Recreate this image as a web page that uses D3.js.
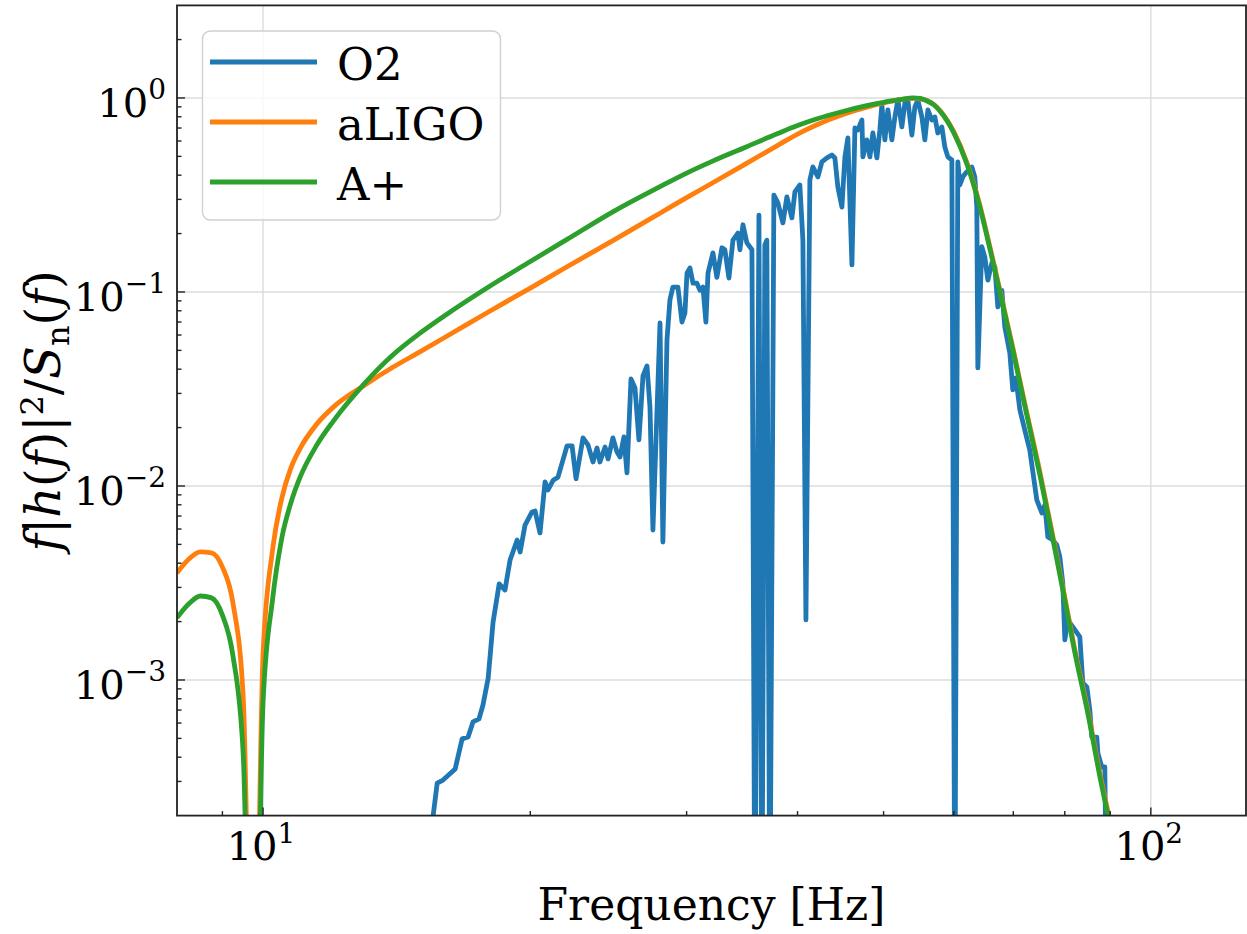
<!DOCTYPE html>
<html>
<head>
<meta charset="utf-8">
<script src="https://cdn.jsdelivr.net/npm/d3@7"></script>
<style>
  body { margin: 0; background: #fff; }
  svg { display: block; }
</style>
</head>
<body>
<script>
// smooth detector curves share one frequency grid (Hz)
const smoothFreq = [8, 8.25, 8.5, 8.75, 9, 9.25, 9.5, 9.75, 10, 10.25, 10.5, 10.75, 11, 11.5, 12, 13, 14, 15, 16, 18, 20, 22, 25, 28, 30, 32, 35, 38, 40, 42, 45, 48, 50, 52, 54, 55, 56, 57, 58, 60, 62, 64, 66, 68, 70, 72, 75, 78, 80, 82, 85, 88, 90]
const aligoValue = [3.56e-3, 4.2e-3, 4.57e-3, 4.52e-3, 3.82e-3, 2.49e-3, 8.07e-4, 7e-6, 1.35e-3, 4.68e-3, 8.67e-3, 0.0124, 0.0155, 0.0209, 0.0255, 0.033, 0.0409, 0.049, 0.0581, 0.0796, 0.1047, 0.1349, 0.1884, 0.2547, 0.3063, 0.3622, 0.4585, 0.57, 0.652, 0.726, 0.822, 0.899, 0.942, 0.977, 0.994, 0.988, 0.968, 0.925, 0.852, 0.668, 0.47, 0.294, 0.165, 0.091, 0.0503, 0.0275, 0.0118, 4.85e-3, 2.67e-3, 1.48e-3, 6.85e-4, 3.0e-4, 1.86e-4]
const aplusValue = [2.09e-3, 2.47e-3, 2.71e-3, 2.65e-3, 2.16e-3, 1.33e-3, 4.1e-4, 4e-6, 7.6e-4, 2.6e-3, 5.4e-3, 8.2e-3, 0.011, 0.0163, 0.0216, 0.0336, 0.0473, 0.061, 0.0752, 0.107, 0.1435, 0.1867, 0.265, 0.349, 0.41, 0.47, 0.559, 0.656, 0.721, 0.779, 0.852, 0.915, 0.95, 0.977, 1.0, 0.994, 0.965, 0.92, 0.847, 0.66, 0.462, 0.288, 0.161, 0.0888, 0.0491, 0.0268, 0.0114, 4.68e-3, 2.58e-3, 1.43e-3, 6.6e-4, 2.88e-4, 1.79e-4]

// O2 curve, vertices
const o2Freq = [15.46, 15.54, 15.71, 15.95, 16.46, 16.76, 17.02, 17.24, 17.51, 17.69,
  17.93, 18.16, 18.45, 18.73, 18.98, 19.33, 19.48, 19.73, 20.09, 20.25,
  20.51, 20.78, 20.94, 21.22, 21.49, 22.00, 22.29, 22.52, 22.93, 23.23,
  23.53, 23.78, 23.96, 24.28, 24.47, 24.78, 25.04, 25.24, 25.50, 25.70,
  25.97, 26.24, 26.51, 26.79, 27.07, 27.28, 27.49, 28.00, 28.21, 28.51,
  28.73, 28.95, 29.33, 29.64, 29.87, 30.03, 30.26, 30.50, 30.81, 31.06,
  31.30, 31.54, 31.71, 32.12, 32.45, 32.88, 33.13, 33.48, 33.83, 34.27,
  34.45, 34.72, 35.08, 35.54, 35.81, 36.19, 36.47, 36.75, 36.94, 37.23,
  37.62, 38.01, 38.51, 38.91, 39.42, 39.73, 40.24, 40.56, 40.88, 41.30,
  41.62, 42.17, 42.61, 43.17, 43.73, 44.07, 44.41, 44.88, 45.23, 45.58,
  46.06, 46.42, 46.78, 47.27, 47.39, 47.88, 48.26, 48.63, 49.14, 49.52,
  49.78, 50.17, 50.56, 51.09, 51.49, 51.89, 52.43, 52.84, 53.25, 53.81,
  54.23, 54.65, 55.22, 55.65, 56.09, 56.67, 57.11, 57.56, 58.16, 58.61,
  59.07, 59.69, 60.15, 60.62, 60.94, 61.41, 62.05, 62.86, 63.35, 63.68,
  63.85, 64.51, 65.02, 65.53, 66.21, 66.73, 67.25, 67.95, 68.48, 69.37,
  69.91, 70.46, 71.20, 72.12, 73.06, 74.40, 75.38, 75.96, 76.56, 77.56,
  78.36, 78.98, 79.59, 80.01, 80.63, 81.68, 83.18, 83.83, 84.71, 85.37,
  85.81, 86.93, 87.16, 88.07, 88.75, 88.98]
const o2Value = [7e-5, 1.97e-4, 2.94e-4, 3.05e-4, 3.48e-4, 4.97e-4, 5.08e-4, 6.08e-4, 6.3e-4, 7.43e-4,
  1.02e-3, 1.99e-3, 3.13e-3, 2.91e-3, 4.16e-3, 5.27e-3, 4.57e-3, 6.29e-3, 7.35e-3, 7.43e-3,
  5.73e-3, 1.05e-2, 9.54e-3, 1.07e-2, 1.11e-2, 1.61e-2, 1.61e-2, 1.09e-2, 1.77e-2, 1.63e-2,
  1.33e-2, 1.57e-2, 1.33e-2, 1.59e-2, 1.38e-2, 1.77e-2, 1.5e-2, 1.41e-2, 1.79e-2, 1.17e-2,
  3.56e-2, 3.2e-2, 1.73e-2, 3.69e-2, 4.16e-2, 2.55e-2, 5.93e-3, 6.92e-2, 5.14e-3, 5.66e-2,
  9.09e-2, 0.106, 0.106, 0.07, 0.078, 0.125, 0.133, 0.111, 0.111, 0.102,
  0.106, 0.07, 0.125, 0.159, 0.119, 0.169, 0.165, 0.118, 0.185, 0.201,
  0.165, 0.222, 0.179, 0.165, 4e-5, 0.249, 4e-5, 0.175, 0.185, 4e-5,
  0.316, 0.288, 0.227, 0.309, 0.241, 0.328, 0.356, 0.185, 2.04e-3, 0.378,
  0.441, 0.392, 0.468, 0.491, 0.508, 0.491, 0.348, 0.274, 0.497, 0.622,
  0.138, 0.70, 0.684, 0.77, 0.497, 0.608, 0.497, 0.66, 0.491, 0.684,
  0.92, 0.608, 0.868, 0.608, 0.798, 0.977, 0.709, 0.942, 0.977, 0.644,
  0.899, 0.977, 0.798, 0.608, 0.868, 0.77, 0.798, 0.66, 0.709, 0.559,
  0.497, 0.479, 4e-5, 0.468, 0.356, 0.392, 0.416, 0.441, 0.392, 0.274,
  0.0406, 0.171, 0.151, 0.115, 0.141, 0.135, 0.0837, 0.102, 0.066, 0.0485,
  0.0313, 0.036, 0.0247, 0.0194, 0.0153, 8.47e-3, 7.26e-3, 7.98e-3, 5.46e-3, 5.27e-3,
  4.96e-3, 4.31e-3, 3.16e-3, 1.61e-3, 2.04e-3, 1.88e-3, 1.67e-3, 9.66e-4, 9.21e-4, 7.0e-4,
  5.08e-4, 5.08e-4, 4.2e-4, 3.56e-4, 3.56e-4, 1.33e-4]

const seriesNames = ['O2', 'aLIGO', 'A+']
const seriesColors = ['#1f77b4', '#ff7f0e', '#2ca02c']
const xMajor = [10, 100]
const xMinor = [9, 20, 30, 40, 50, 60, 70, 80, 90]
const yMajor = [1e-3, 1e-2, 1e-1, 1]
const yExp = ['\u22123', '\u22122', '\u22121', '0']

const width = 1247
const height = 934
const font = "'DejaVu Serif', serif"

const x = d3.scaleLog().domain([8, 128]).range([177, 1246])
const y = d3.scaleLog().domain([2e-4, 3]).range([815.6, 5.4])
const [x0, x1] = x.range()
const [y0, y1] = y.range()

const yMinor = []
for (let e = -4; e <= 0; e++) {
  for (let m = 2; m <= 9; m++) {
    const v = m * Math.pow(10, e)
    if (v > 2e-4 && v < 3) yMinor.push(v)
  }
}

const series = [
  d3.zip(o2Freq, o2Value),
  d3.zip(smoothFreq, aligoValue),
  d3.zip(smoothFreq, aplusValue)
]

const svg = d3.select('body').append('svg')
  .attr('width', width)
  .attr('height', height)
  .attr('font-family', font)

svg.append('defs').append('clipPath').attr('id', 'plot')
  .append('rect')
  .attr('x', x0).attr('y', y1)
  .attr('width', x1 - x0).attr('height', y0 - y1)

// grid
const grid = svg.append('g').attr('stroke', '#dcdcdc').attr('stroke-width', 1.4)
grid.selectAll('.gx').data(xMajor).join('line')
  .attr('x1', (d) => x(d)).attr('x2', (d) => x(d))
  .attr('y1', y0).attr('y2', y1)
grid.selectAll('.gy').data(yMajor).join('line')
  .attr('x1', x0).attr('x2', x1)
  .attr('y1', (d) => y(d)).attr('y2', (d) => y(d))

// curves
const line = d3.line().x((d) => x(d[0])).y((d) => y(d[1]))
const smooth = d3.line().curve(d3.curveMonotoneX).x((d) => x(d[0])).y((d) => y(d[1]))

const curves = svg.append('g')
  .attr('clip-path', 'url(#plot)')
  .attr('fill', 'none')
  .attr('stroke-width', 4.8)
  .attr('stroke-linejoin', 'round')

curves.selectAll('path')
  .data(series)
  .join('path')
  .attr('stroke', (d, i) => seriesColors[i])
  .attr('d', (d, i) => (i === 0 ? line(d) : smooth(d)))

// ticks pointing inward
const axes = svg.append('g').attr('stroke', '#222')
axes.selectAll('.tx').data(xMajor.map((v) => [v, 8]).concat(xMinor.map((v) => [v, 4.5]))).join('line')
  .attr('stroke-width', 1.4)
  .attr('x1', (d) => x(d[0])).attr('x2', (d) => x(d[0]))
  .attr('y1', y0).attr('y2', (d) => y0 - d[1])
axes.selectAll('.ty').data(yMajor.map((v) => [v, 8]).concat(yMinor.map((v) => [v, 4.5]))).join('line')
  .attr('stroke-width', 1.4)
  .attr('x1', x0).attr('x2', (d) => x0 + d[1])
  .attr('y1', (d) => y(d[0])).attr('y2', (d) => y(d[0]))

axes.append('rect')
  .attr('x', x0).attr('y', y1)
  .attr('width', x1 - x0).attr('height', y0 - y1)
  .attr('fill', 'none')
  .attr('stroke-width', 1.8)

// tick labels
const xl = svg.append('g').attr('fill', '#000').attr('text-anchor', 'middle')
xMajor.forEach((v, i) => {
  const t = xl.append('text').attr('x', x(v) - 2).attr('y', 860).attr('font-size', 40)
  t.append('tspan').text('10')
  t.append('tspan').attr('dy', -17).attr('font-size', 28).text(String(i + 1))
})

const yl = svg.append('g').attr('fill', '#000').attr('text-anchor', 'end')
yMajor.forEach((v, i) => {
  const t = yl.append('text').attr('x', 166).attr('y', y(v) + 19).attr('font-size', 40)
  t.append('tspan').text('10')
  t.append('tspan').attr('dy', -18).attr('font-size', 28).text(yExp[i])
})

// axis titles
svg.append('text')
  .attr('x', (x0 + x1) / 2).attr('y', 920)
  .attr('text-anchor', 'middle')
  .attr('font-size', 44)
  .text('Frequency [Hz]')

const ylab = svg.append('text')
  .attr('transform', 'translate(60,411) rotate(-90)')
  .attr('text-anchor', 'middle')
  .attr('font-size', 48)
const parts = [
  ['f', 'italic'], ['|'], ['h', 'italic'], ['('], ['f', 'italic'], [')|'],
  ['2', null, -17, 32], ['/', null, 17], ['S', 'italic'], ['n', null, 9, 32], ['(', null, -9],
  ['f', 'italic'], [')']
]
parts.forEach(([txt, style, dy, size]) => {
  const s = ylab.append('tspan').text(txt)
  if (style) s.attr('font-style', style)
  if (dy) s.attr('dy', dy)
  if (size) s.attr('font-size', size)
})

// legend
const legend = svg.append('g')
legend.append('rect')
  .attr('x', 202.5).attr('y', 31)
  .attr('width', 298).attr('height', 189)
  .attr('rx', 8)
  .attr('fill', 'rgba(255,255,255,0.8)')
  .attr('stroke', '#d0d0d0')
  .attr('stroke-width', 1.4)

const item = legend.selectAll('g.item')
  .data(seriesNames)
  .join('g')
  .attr('transform', (d, i) => `translate(0,${62 + i * 60})`)
item.append('line')
  .attr('x1', 210).attr('x2', 317)
  .attr('stroke', (d, i) => seriesColors[i])
  .attr('stroke-width', 4.8)
item.append('text')
  .attr('x', 337).attr('y', 18)
  .attr('font-size', 45)
  .text((d) => d)
</script>
</body>
</html>
